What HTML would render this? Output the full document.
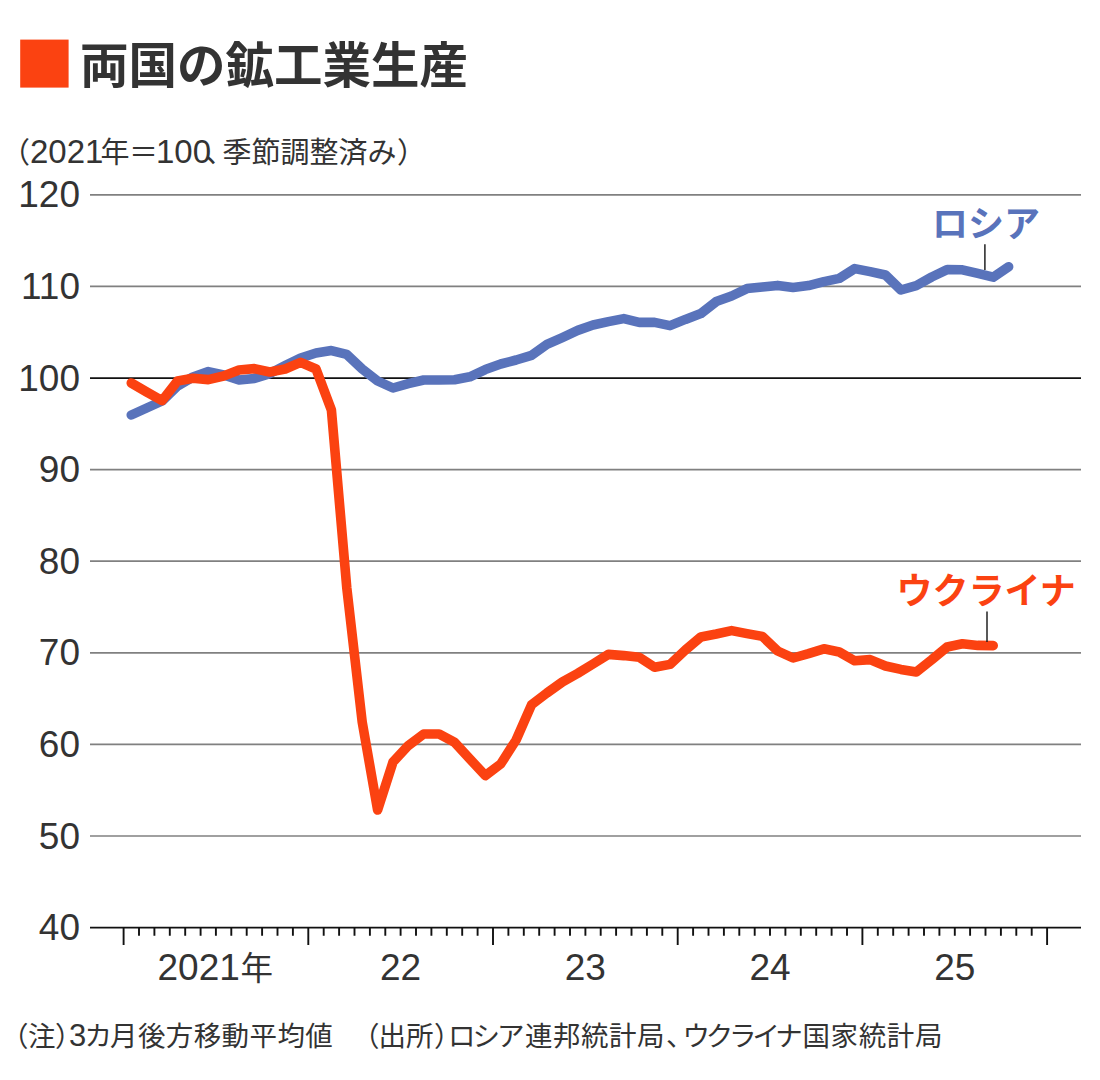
<!DOCTYPE html>
<html lang="ja"><head><meta charset="utf-8"><title>両国の鉱工業生産</title>
<style>
html,body{margin:0;padding:0;background:#fff;}
body{width:1100px;height:1080px;overflow:hidden;font-family:"Liberation Sans",sans-serif;}
svg{display:block;}
svg text{font-family:"Liberation Sans","Noto Sans CJK JP",sans-serif;}
</style></head><body>
<svg width="1100" height="1080" viewBox="0 0 1100 1080" role="img" aria-label="両国の鉱工業生産（2021年＝100、季節調整済み）ロシア ウクライナ">
<rect width="1100" height="1080" fill="#ffffff"/>
<rect x="20.2" y="39.6" width="48.4" height="48" fill="#fb4211"/>
<text x="80" y="83" font-size="48.5" font-weight="bold" fill="#333333">両国の鉱工業生産</text>
<text y="163" font-size="29" fill="#333333"><tspan x="1">（</tspan><tspan x="30" font-size="33">2021</tspan><tspan x="100.5">年</tspan><tspan x="129">＝</tspan><tspan x="156" font-size="33">100</tspan><tspan x="205">、</tspan><tspan x="222.5">季節調整済み</tspan><tspan x="397">）</tspan></text>
<g stroke="#808080" stroke-width="1.7" fill="none">
<line x1="90" y1="194.8" x2="1081" y2="194.8"/>
<line x1="90" y1="286.4" x2="1081" y2="286.4"/>
<line x1="90" y1="469.6" x2="1081" y2="469.6"/>
<line x1="90" y1="561.2" x2="1081" y2="561.2"/>
<line x1="90" y1="652.8" x2="1081" y2="652.8"/>
<line x1="90" y1="744.4" x2="1081" y2="744.4"/>
<line x1="90" y1="836" x2="1081" y2="836"/>
</g>
<line x1="90" y1="378" x2="1081" y2="378" stroke="#111" stroke-width="1.75"/>
<g stroke="#111" stroke-width="1.9" fill="none">
<line x1="90" y1="927.6" x2="1081" y2="927.6"/>
<path d="M123.6 927.6v17.3M139 927.6v8.2M154.4 927.6v8.2M169.8 927.6v8.2M185.2 927.6v8.2M200.6 927.6v8.2M215.9 927.6v8.2M231.3 927.6v8.2M246.7 927.6v8.2M262.1 927.6v8.2M277.5 927.6v8.2M292.9 927.6v8.2M308.3 927.6v17.3M323.7 927.6v8.2M339.1 927.6v8.2M354.5 927.6v8.2M369.9 927.6v8.2M385.3 927.6v8.2M400.6 927.6v8.2M416 927.6v8.2M431.4 927.6v8.2M446.8 927.6v8.2M462.2 927.6v8.2M477.6 927.6v8.2M493 927.6v17.3M508.4 927.6v8.2M523.8 927.6v8.2M539.2 927.6v8.2M554.6 927.6v8.2M570 927.6v8.2M585.4 927.6v8.2M600.7 927.6v8.2M616.1 927.6v8.2M631.5 927.6v8.2M646.9 927.6v8.2M662.3 927.6v8.2M677.7 927.6v17.3M693.1 927.6v8.2M708.5 927.6v8.2M723.9 927.6v8.2M739.3 927.6v8.2M754.7 927.6v8.2M770 927.6v8.2M785.4 927.6v8.2M800.8 927.6v8.2M816.2 927.6v8.2M831.6 927.6v8.2M847 927.6v8.2M862.4 927.6v17.3M877.8 927.6v8.2M893.2 927.6v8.2M908.6 927.6v8.2M924 927.6v8.2M939.4 927.6v8.2M954.8 927.6v8.2M970.1 927.6v8.2M985.5 927.6v8.2M1000.9 927.6v8.2M1016.3 927.6v8.2M1031.7 927.6v8.2M1047.1 927.6v17.3"/>
</g>
<g fill="#333333" font-size="37" text-anchor="end">
<text x="80" y="207.4">120</text>
<text x="80" y="299">110</text>
<text x="80" y="390.6">100</text>
<text x="80" y="482.2">90</text>
<text x="80" y="573.8">80</text>
<text x="80" y="665.4">70</text>
<text x="80" y="757">60</text>
<text x="80" y="848.6">50</text>
<text x="80" y="940.2">40</text>
</g>
<g fill="none" stroke-width="9.6" stroke-linejoin="round" stroke-linecap="round">
<polyline stroke="#5973bb" points="131.3,415 146.7,408 162.1,401 177.5,386 192.9,377 208.3,371.6 223.6,375 239,380 254.4,378.4 269.8,373.6 285.2,365.6 300.6,358 316,353 331.4,350.6 346.8,354.4 362.2,369 377.6,381 393,388 408.3,383.6 423.7,380 439.1,380 454.5,379.8 469.9,376.8 485.3,369.6 500.7,364 516.1,360 531.5,355.4 546.9,344.4 562.3,337.6 577.7,330.4 593,325 608.4,321.6 623.8,318.6 639.2,322.4 654.6,322.4 670,325.6 685.4,319.4 700.8,313.6 716.2,301.6 731.6,296 747,288.6 762.4,287 777.7,285.4 793.1,287.4 808.5,285.6 823.9,281.6 839.3,278.4 854.7,268.6 870.1,271.6 885.5,275 900.9,290 916.3,285.6 931.7,277 947.1,269.6 962.4,269.8 977.8,273.4 993.2,277.2 1008.6,266.8"/>
<polyline stroke="#fb4211" points="131.3,383 146.7,392 162.1,400.6 177.5,381 192.9,378.2 208.3,379.6 223.6,376 239,370 254.4,368.6 269.8,372 285.2,369 300.6,362.4 316,369 331.4,410 346.8,588 362.2,722 377.6,810 393,762 408.3,745.6 423.7,734 439.1,734 454.5,742.2 469.9,759 485.3,775.6 500.7,764 516.1,740 531.5,704.8 546.9,693 562.3,682 577.7,673.4 593,664 608.4,654.4 623.8,655.6 639.2,657.2 654.6,667.2 670,664.4 685.4,650 700.8,637 716.2,634 731.6,630.6 747,633.6 762.4,636.4 777.7,651 793.1,658 808.5,653.6 823.9,648.8 839.3,652 854.7,660.8 870.1,659.6 885.5,666 900.9,669.4 916.3,672 931.7,659.8 947.1,647 962.4,643.8 977.8,645.4 993.2,645.6"/>
</g>
<text x="932" y="236.5" font-size="36" font-weight="bold" fill="#5973bb">ロシア</text>
<text x="896.5" y="603.5" font-size="36" font-weight="bold" fill="#fb4211">ウクライナ</text>
<g stroke="#222" stroke-width="1.5">
<line x1="984.9" y1="244.2" x2="984.9" y2="270"/>
<line x1="987" y1="611.6" x2="987" y2="642"/>
</g>
<g fill="#333333" font-size="37" text-anchor="middle">
<text x="400.6" y="980.4">22</text>
<text x="585.3" y="980.4">23</text>
<text x="770" y="980.4">24</text>
<text x="954.8" y="980.4">25</text>
</g>
<text y="980.4" font-size="37" fill="#333333"><tspan x="157.5">2021</tspan><tspan x="240.5" font-size="32.5">年</tspan></text>
<text y="1046.3" font-size="27.5" fill="#333333"><tspan x="1">（</tspan><tspan x="28">注</tspan><tspan x="55">）</tspan><tspan x="69" font-size="31">3</tspan><tspan x="84.5">カ</tspan><tspan x="110" style="letter-spacing:0.4px">月後方移動平均値</tspan><tspan x="352">（</tspan><tspan x="378.5">出所</tspan><tspan x="434">）</tspan><tspan x="448" style="letter-spacing:-3px">ロシア</tspan><tspan x="525" style="letter-spacing:0.5px">連邦統計局</tspan><tspan x="666">、</tspan><tspan x="682.5" style="letter-spacing:-4.2px">ウクライナ</tspan><tspan x="802.5" style="letter-spacing:0.6px">国家統計局</tspan></text>
</svg>
</body></html>
